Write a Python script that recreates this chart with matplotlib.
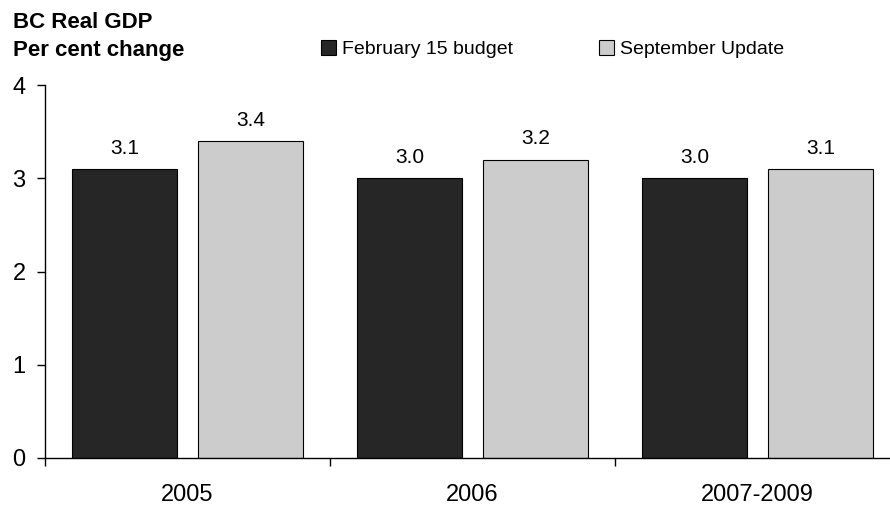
import matplotlib.pyplot as plt
import numpy as np

plt.rcParams['font.family'] = ['Liberation Sans', 'DejaVu Sans']

categories = ['2005', '2006', '2007-2009']
feb_budget = [3.1, 3.0, 3.0]
sept_update = [3.4, 3.2, 3.1]
series_names = ['February 15 budget', 'September Update']

W, H = 890, 507
fig = plt.figure(figsize=(W / 100, H / 100), dpi=100)
# axes box in pixel terms: left 45, right 900 (runs off the image), top 85, bottom 458
ax = fig.add_axes([45 / W, 1 - 458 / H, 855 / W, 373 / H])

x = np.arange(len(categories))
off = 63 / 285
bw = 105 / 285
b1 = ax.bar(x - off, feb_budget, bw, color='#262626', edgecolor='black', linewidth=0.8,
            label=series_names[0])
b2 = ax.bar(x + off, sept_update, bw, color='#cccccc', edgecolor='black', linewidth=0.8,
            label=series_names[1])

for bars, vals in ((b1, feb_budget), (b2, sept_update)):
    for r, v in zip(bars, vals):
        ax.annotate(f'{v:.1f}', (r.get_x() + r.get_width() / 2, v), xytext=(0, 8),
                    textcoords='offset points', ha='center', va='bottom', fontsize=15)

ax.set_xlim(-0.5, len(categories) - 0.5)
ax.set_ylim(0, 4)
ax.set_yticks([0, 1, 2, 3, 4])
ax.set_xticks(x)
ax.set_xticklabels(categories)
ax.set_xticks(np.arange(len(categories) + 1) - 0.5, minor=True)
ax.tick_params(axis='x', which='major', length=0, labelsize=17, pad=19)
ax.tick_params(axis='x', which='minor', length=6, width=1, direction='out')
ax.tick_params(axis='y', length=6, width=1, direction='out', labelsize=17, pad=8)

for s in ('top', 'right'):
    ax.spines[s].set_visible(False)
ax.spines['left'].set_linewidth(1)
ax.spines['bottom'].set_linewidth(1)

fig.text(13 / W, 1 - 12 / H, 'BC Real GDP\nPer cent change', fontsize=16, fontweight='bold',
         ha='left', va='top', linespacing=1.45)

fig.legend(loc='center left', bbox_to_anchor=(313 / W, 1 - 49 / H), ncol=2, frameon=False,
           fontsize=14, handlelength=0.8, handleheight=0.8, handletextpad=0.3,
           columnspacing=4.4, borderaxespad=0)

fig.savefig('out.png', dpi=100)
